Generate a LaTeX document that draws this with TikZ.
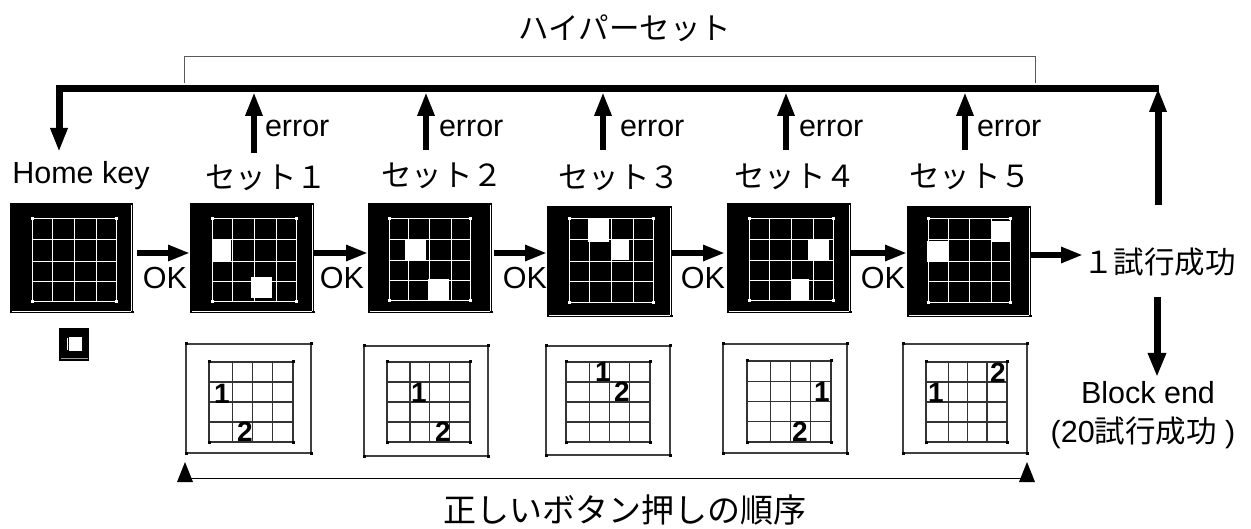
\documentclass[tikz,border=0pt]{standalone}
\usepackage{fontspec}
\setmainfont{Liberation Sans}
\newfontfamily\cjkf{Noto Sans CJK JP}
\usetikzlibrary{arrows.meta}
\newcommand{\jp}[1]{{\cjkf #1}}
\tikzset{
  lab/.style={font=\fontsize{30.5}{34}\selectfont, inner sep=0pt, outer sep=0pt, anchor=center},
  num/.style={font=\fontsize{28}{30}\selectfont\bfseries, inner sep=0pt, anchor=center},
  blackpanel/.style={fill=black, inner sep=0pt, outer sep=0pt, anchor=north west},
  whitepanel/.style={draw=black!75, line width=1.2pt, inner sep=0pt, outer sep=0pt, anchor=north west},
  thickarrow/.style={line width=6pt, -{Triangle[length=24pt,width=16pt]}},
  hzarrow/.style={line width=5.5pt, -{Triangle[length=22pt,width=15pt]}},
  wgrid/.style={white, line width=1pt},
  bgrid/.style={black!80, line width=1.2pt},
  dotw/.style={fill=white},
  dotb/.style={fill=black},
  cellw/.style={fill=white}
}
% \blackp{name}{x0}{y0}{x1}{y1}{gx0}{gy0}{gx1}{gy1}
\newcommand{\blackp}[9]{%
  \pgfmathsetmacro{\pw}{#4-#2}\pgfmathsetmacro{\ph}{#5-#3}%
  \node[blackpanel, minimum width=\pw pt, minimum height=\ph pt] (#1) at (#2,#3) {};
  \draw[white, line width=1pt] (#4-1.5,#3+2) -- (#4-1.5,#5-1.5) -- (#2+2,#5-1.5);
  \fill[black] (#4-2,#5-2) rectangle (#4+0.5,#5+0.5);
  \def\gxa{#6}\def\gya{#7}\def\gxb{#8}\def\gyb{#9}%
  \foreach \f in {0,0.244,0.5,0.77,1}{\draw[wgrid] ({\gxa+\f*(\gxb-\gxa)},\gya) -- ({\gxa+\f*(\gxb-\gxa)},\gyb);}
  \foreach \f in {0,0.25,0.51,0.75,1}{\draw[wgrid] (\gxa,{\gya+\f*(\gyb-\gya)}) -- (\gxb,{\gya+\f*(\gyb-\gya)});}
  \foreach \a/\b in {\gxa/\gya,\gxb/\gya,\gxa/\gyb,\gxb/\gyb}{\fill[dotw] (\a-1.5,\b-1.5) rectangle (\a+1.5,\b+1.5);}
}
\newcommand{\whitep}[9]{%
  \pgfmathsetmacro{\pw}{#4-#2}\pgfmathsetmacro{\ph}{#5-#3}%
  \node[whitepanel, minimum width=\pw pt, minimum height=\ph pt] (#1) at (#2,#3) {};
  \foreach \a/\b in {#2/#3,#4/#3,#2/#5,#4/#5}{\fill[dotb] (\a-1.5,\b-1.5) rectangle (\a+1.5,\b+1.5);}
  \def\gxa{#6}\def\gya{#7}\def\gxb{#8}\def\gyb{#9}%
  \foreach \f in {0,0.278,0.516,0.754,1}{\draw[bgrid] ({\gxa+\f*(\gxb-\gxa)},\gya) -- ({\gxa+\f*(\gxb-\gxa)},\gyb);}
  \foreach \f in {0,0.25,0.5,0.75,1}{\draw[bgrid] (\gxa,{\gya+\f*(\gyb-\gya)}) -- (\gxb,{\gya+\f*(\gyb-\gya)});}
  \foreach \a/\b in {\gxa/\gya,\gxb/\gya,\gxa/\gyb,\gxb/\gyb}{\fill[dotb] (\a-1.5,\b-1.5) rectangle (\a+1.5,\b+1.5);}
}
\begin{document}
\begin{tikzpicture}[x=1pt,y=-1pt]
\useasboundingbox (0,0) rectangle (1251,529);
\fill[white] (0,0) rectangle (1251,529);

% title and bracket
\node[lab] (hyper) at (625,28) {\jp{ハイパーセット}};
\coordinate (brL) at (184,83); \coordinate (brLt) at (184,57);
\coordinate (brR) at (1035,83); \coordinate (brRt) at (1035,57);
\draw[black!65, line width=1pt] (brL) -- (brLt) -- (brRt) -- (brR);

% black panels
\blackp{p0}{10}{203}{133}{313}{32}{219}{116}{302}
\blackp{p1}{190}{203}{314}{313}{212}{219}{296}{302}
\blackp{p2}{368}{203}{492}{313}{389}{219}{470}{301}
\blackp{p3}{547}{206}{672}{317}{569}{219}{653}{303}
\blackp{p4}{727}{203}{851}{313}{749}{219}{833}{301}
\blackp{p5}{907}{206}{1031}{317}{928}{219}{1010}{303}

% lit cells
\fill[cellw] (213,239) rectangle (231,261);
\fill[cellw] (251,277) rectangle (272,298);
\fill[cellw] (405,239) rectangle (426,260);
\fill[cellw] (428,279) rectangle (449,300);
\fill[cellw] (588,219) rectangle (609,242);
\fill[cellw] (611,239) rectangle (629,260);
\fill[cellw] (808,239) rectangle (829,260);
\fill[cellw] (791,279) rectangle (809,300);
\fill[cellw] (991,221) rectangle (1010,242);
\fill[cellw] (927,241) rectangle (948,262);

% home key icon
\node[blackpanel, minimum width=30pt, minimum height=33pt] (icon) at (59,328) {};
\draw[white, line width=1pt] (67,338) -- (67,350);
\fill[white] (69,337) rectangle (82,351);
\draw[black!40, line width=1pt] (61,358.5) -- (88,358.5);

% white panels
\whitep{q1}{186}{344}{311}{453}{209}{362}{293}{442}
\whitep{q2}{364}{346}{488}{456}{387}{362}{470}{442}
\whitep{q3}{546}{346}{670}{455}{566}{362}{650}{442}
\whitep{q4}{723}{344}{847}{453}{747}{361}{831}{442}
\whitep{q5}{903}{344}{1027}{453}{926}{362}{1007}{442}

\node[num] (n11) at (222,394) {1}; \node[num] (n12) at (245,432) {2};
\node[num] (n21) at (419,393) {1}; \node[num] (n22) at (443,432) {2};
\node[num] (n31) at (603,372) {1}; \node[num] (n32) at (622,392) {2};
\node[num] (n41) at (822,392) {1}; \node[num] (n42) at (800,432) {2};
\node[num] (n51) at (936,393) {1}; \node[num] (n52) at (998,373) {2};

% labels
\node[lab] (home) at (81,176) {Home key};
\node[lab] (s1) at (266,178) {\jp{セット１}};
\node[lab] (s2) at (442,176) {\jp{セット２}};
\node[lab] (s3) at (619,178) {\jp{セット３}};
\node[lab] (s4) at (795,177) {\jp{セット４}};
\node[lab] (s5) at (970,177) {\jp{セット５}};

\node[lab, anchor=west] (e1) at (265,128) {error};
\node[lab, anchor=west] (e2) at (439,128) {error};
\node[lab, anchor=west] (e3) at (620,128) {error};
\node[lab, anchor=west] (e4) at (799,128) {error};
\node[lab, anchor=west] (e5) at (977,128) {error};

\node[lab] (ok1) at (165,278) {OK};
\node[lab] (ok2) at (342,278) {OK};
\node[lab] (ok3) at (525,278) {OK};
\node[lab] (ok4) at (703,278) {OK};
\node[lab] (ok5) at (883,278) {OK};

\node[lab, anchor=west] (succ) at (1083,262) {\jp{１試行成功}};
\node[lab] (bend) at (1148,393) {Block end};
\node[lab] (bend2) at (1143,433) {(20\jp{試行成功} )};
\node[lab] (order) at (625,510) {\fontsize{33}{36}\selectfont\jp{正しいボタン押しの順序}};

% top return line
\coordinate (topL) at (59,89); \coordinate (topR) at (1159,89);
\coordinate (homeTip) at (59,152);
\draw[line width=7pt, line join=miter] (topR) -- (topL) -- (59,130);
\draw[thickarrow] (59,120) -- (homeTip);

% error arrows
\coordinate (ea1) at (254,153); \coordinate (eb1) at (254,92);
\coordinate (ea2) at (426,150); \coordinate (eb2) at (426,92);
\coordinate (ea3) at (603,150); \coordinate (eb3) at (603,92);
\coordinate (ea4) at (786,150); \coordinate (eb4) at (786,92);
\coordinate (ea5) at (965,150); \coordinate (eb5) at (965,92);
\foreach \i in {1,...,5}{\draw[thickarrow] (ea\i) -- (eb\i);}
\coordinate (ra) at (1158,205); \coordinate (rb) at (1158,88);
\draw[line width=7pt, -{Triangle[length=24pt,width=16pt]}] (ra) -- (rb);

% OK arrows
\draw[hzarrow] ([xshift=4pt,yshift=5pt]p0.east) -- ([yshift=5pt]p1.west);
\draw[hzarrow] ([yshift=5pt]p1.east) -- ([yshift=5pt]p2.west);
\draw[hzarrow] ([xshift=2pt,yshift=5pt]p2.east) -- ([yshift=5pt]p2.east -| p3.west);
\draw[hzarrow] ([yshift=8.5pt]p3.east) -- ([xshift=-2pt,yshift=8.5pt]p3.east -| p4.west);
\draw[hzarrow] ([yshift=5pt]p4.east) -- ([yshift=5pt]p4.east -| p5.west);
\draw[hzarrow] ([yshift=6.5pt]p5.east) -- ([yshift=6.5pt]p5.east -| succ.west);

% to block end
\coordinate (da) at (1157,297); \coordinate (db) at (1157,377);
\draw[line width=7pt, -{Triangle[length=24pt,width=17pt]}] (da) -- (db);

% bottom span
\coordinate (bl) at (185,478); \coordinate (br) at (1027,478);
\draw[black, line width=1pt] (bl) -- (br);
\fill[black] (185,462) -- (193,482) -- (177,482) -- cycle;
\fill[black] (1027,462) -- (1035,482) -- (1019,482) -- cycle;
\end{tikzpicture}
\end{document}
